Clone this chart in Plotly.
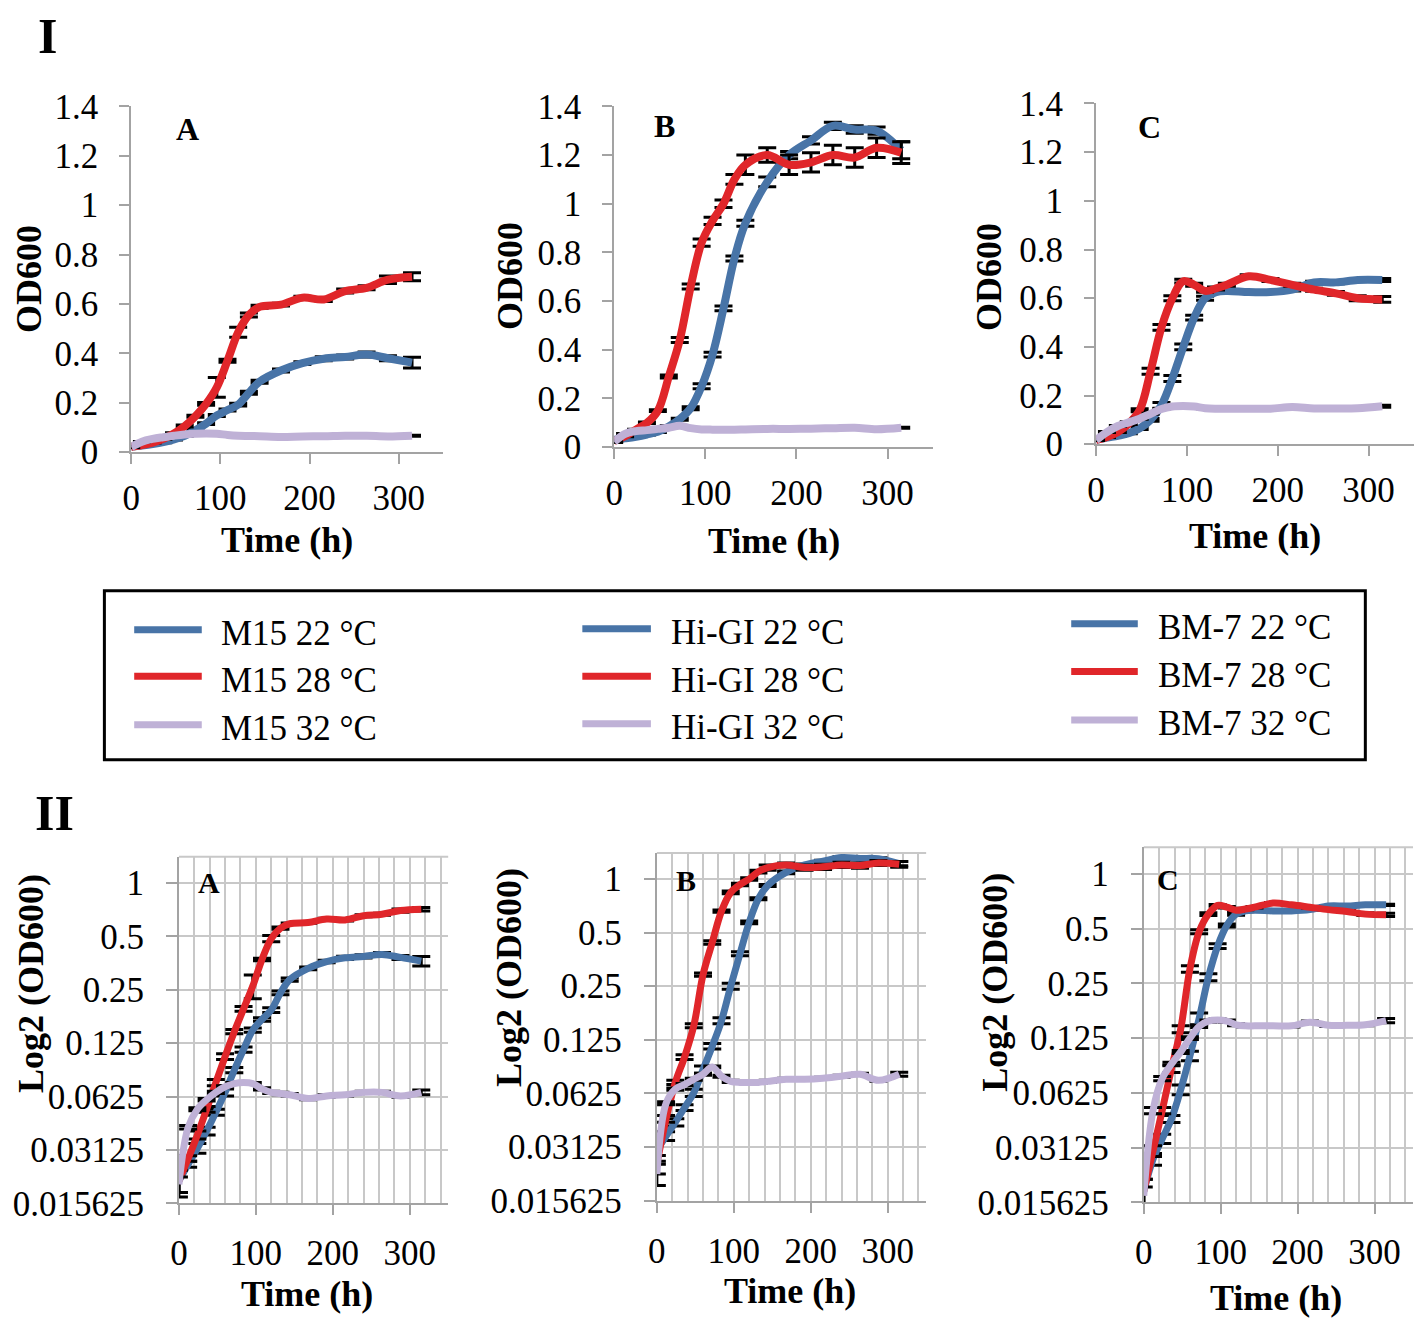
import plotly.graph_objects as go

W, H = 1418, 1339

# ---------------- data ----------------
time_h = [0, 12, 24, 36, 48, 60, 72, 84, 96, 108, 120, 132, 144, 168, 192, 216, 240, 264, 288, 315]

strains = ["M15", "Hi-GI", "BM-7"]
temps = ["22 °C", "28 °C", "32 °C"]

m15_22 = [0.021, 0.026, 0.032, 0.040, 0.051, 0.066, 0.088, 0.115, 0.148, 0.170, 0.192, 0.240, 0.285, 0.330, 0.360, 0.378, 0.385, 0.395, 0.380, 0.362]
m15_28 = [0.021, 0.028, 0.038, 0.053, 0.075, 0.105, 0.145, 0.195, 0.262, 0.370, 0.485, 0.555, 0.588, 0.597, 0.625, 0.618, 0.652, 0.665, 0.698, 0.710]
m15_32 = [0.020, 0.042, 0.053, 0.060, 0.066, 0.071, 0.074, 0.075, 0.074, 0.069, 0.066, 0.065, 0.064, 0.061, 0.063, 0.064, 0.066, 0.066, 0.063, 0.066]

higi_22 = [0.030, 0.036, 0.043, 0.052, 0.063, 0.085, 0.115, 0.160, 0.250, 0.380, 0.570, 0.775, 0.920, 1.090, 1.200, 1.260, 1.320, 1.305, 1.300, 1.220]
higi_28 = [0.025, 0.045, 0.072, 0.100, 0.150, 0.290, 0.440, 0.660, 0.840, 0.930, 1.000, 1.100, 1.160, 1.200, 1.160, 1.170, 1.200, 1.190, 1.230, 1.210]
higi_32 = [0.022, 0.055, 0.066, 0.070, 0.075, 0.080, 0.088, 0.078, 0.073, 0.072, 0.072, 0.072, 0.073, 0.075, 0.075, 0.076, 0.078, 0.080, 0.074, 0.080]

bm7_22 = [0.018, 0.027, 0.035, 0.045, 0.065, 0.100, 0.160, 0.270, 0.400, 0.520, 0.600, 0.625, 0.630, 0.625, 0.625, 0.635, 0.665, 0.665, 0.675, 0.675]
bm7_28 = [0.018, 0.030, 0.050, 0.085, 0.140, 0.300, 0.480, 0.600, 0.670, 0.655, 0.630, 0.640, 0.655, 0.690, 0.675, 0.655, 0.635, 0.620, 0.600, 0.595]
bm7_32 = [0.017, 0.050, 0.075, 0.090, 0.105, 0.125, 0.145, 0.155, 0.157, 0.155, 0.148, 0.146, 0.146, 0.146, 0.146, 0.153, 0.147, 0.147, 0.148, 0.156]

# standard deviations (error bars)
m15_22_err = [0.004, 0.001, 0.002, 0.002, 0.002, 0.003, 0.003, 0.004, 0.004, 0.004, 0.006, 0.006, 0.006, 0.006, 0.006, 0.008, 0.008, 0.010, 0.010, 0.022]
m15_28_err = [0.003, 0.001, 0.002, 0.002, 0.003, 0.004, 0.004, 0.006, 0.040, 0.006, 0.020, 0.008, 0.006, 0.006, 0.006, 0.008, 0.008, 0.008, 0.015, 0.016]
m15_32_err = [0.002, 0.001, 0.001, 0.001, 0.001, 0.001, 0.001, 0.001, 0.001, 0.001, 0.001, 0.001, 0.001, 0.001, 0.001, 0.001, 0.001, 0.001, 0.001, 0.002]

higi_22_err = [0.004, 0.002, 0.002, 0.002, 0.003, 0.004, 0.004, 0.006, 0.010, 0.010, 0.010, 0.010, 0.012, 0.020, 0.015, 0.015, 0.015, 0.015, 0.015, 0.035]
higi_28_err = [0.003, 0.002, 0.002, 0.003, 0.004, 0.006, 0.010, 0.010, 0.015, 0.015, 0.015, 0.020, 0.040, 0.030, 0.040, 0.040, 0.040, 0.040, 0.040, 0.045]
higi_32_err = [0.003, 0.001, 0.001, 0.001, 0.001, 0.001, 0.001, 0.001, 0.001, 0.001, 0.001, 0.001, 0.001, 0.001, 0.001, 0.001, 0.001, 0.001, 0.001, 0.002]

bm7_22_err = [0.003, 0.002, 0.002, 0.002, 0.004, 0.006, 0.012, 0.012, 0.012, 0.010, 0.008, 0.006, 0.005, 0.004, 0.004, 0.005, 0.005, 0.006, 0.006, 0.006]
bm7_28_err = [0.003, 0.002, 0.002, 0.004, 0.006, 0.012, 0.012, 0.010, 0.008, 0.006, 0.006, 0.006, 0.006, 0.006, 0.006, 0.006, 0.006, 0.008, 0.010, 0.012]
bm7_32_err = [0.002, 0.002, 0.002, 0.002, 0.002, 0.002, 0.002, 0.002, 0.002, 0.002, 0.002, 0.002, 0.002, 0.002, 0.002, 0.002, 0.002, 0.002, 0.002, 0.004]

panel_letters = ["A", "B", "C"]
lin_ticks = [0, 0.2, 0.4, 0.6, 0.8, 1, 1.2, 1.4]
log_tickvals = [0.015625, 0.03125, 0.0625, 0.125, 0.25, 0.5, 1]
log_ticktext = ["0.015625", "0.03125", "0.0625", "0.125", "0.25", "0.5", "1"]
x_ticks = [0, 100, 200, 300]

series = [
    [(m15_22, m15_22_err), (m15_28, m15_28_err), (m15_32, m15_32_err)],
    [(higi_22, higi_22_err), (higi_28, higi_28_err), (higi_32, higi_32_err)],
    [(bm7_22, bm7_22_err), (bm7_28, bm7_28_err), (bm7_32, bm7_32_err)],
]

colors = ["#4874A7", "#E0262A", "#BFB1D6"]
FONT = "Liberation Serif"
AXIS_GRAY = "#a3a3a3"
GRID_GRAY = "#c8c8c8"

# ---------------- layout geometry (pixels) ----------------
top_boxes = [(123, 437, 90, 446), (609, 930, 90, 441), (1094, 1414, 87, 438)]
bot_boxes = [(171, 442, 863, 1220), (652, 923, 859, 1217), (1142, 1413, 853, 1219)]


def px(x):
    return x / W


def py(y):
    return 1 - y / H


fig = go.Figure()
layout = dict(
    width=W, height=H, autosize=False,
    margin=dict(l=0, r=0, t=0, b=0),
    paper_bgcolor="white", plot_bgcolor="white",
    showlegend=False,
    font=dict(family=FONT, color="black", size=35),
)
annotations = []
shapes = []

for i in range(3):
    # ---- top (linear) ----
    n = i + 1
    xa = "x" if n == 1 else f"x{n}"
    ya = "y" if n == 1 else f"y{n}"
    x0, x1, y0, y1 = top_boxes[i]
    layout["xaxis" if n == 1 else f"xaxis{n}"] = dict(
        domain=[px(x0), px(x1)], anchor=ya, range=[0, 350],
        tickvals=x_ticks, showgrid=False, zeroline=False,
        showline=True, linecolor=AXIS_GRAY, linewidth=2,
        ticks="outside", ticklen=10, tickwidth=2, tickcolor=AXIS_GRAY,
        tickfont=dict(family=FONT, size=35, color="black"),
        ticklabelstandoff=4,
    )
    layout["yaxis" if n == 1 else f"yaxis{n}"] = dict(
        domain=[py(y1), py(y0)], anchor=xa, range=[0, 1.4],
        tickvals=lin_ticks, showgrid=False, zeroline=False,
        showline=True, linecolor=AXIS_GRAY, linewidth=2,
        ticks="outside", ticklen=10, tickwidth=2, tickcolor=AXIS_GRAY,
        tickfont=dict(family=FONT, size=35, color="black"),
        ticklabelstandoff=14,
    )
    for k, (vals, err) in enumerate(series[i]):
        fig.add_trace(go.Scatter(
            x=time_h, y=vals, xaxis=xa, yaxis=ya, mode="lines",
            line=dict(color=colors[k], width=8, shape="spline", smoothing=1.0),
            error_y=dict(type="data", array=err, color="black", thickness=3, width=9),
            name=f"{strains[i]} {temps[k]}",
        ))

    # ---- bottom (log2) ----
    m = i + 4
    xb = f"x{m}"
    yb = f"y{m}"
    bx0, bx1, by0, by1 = bot_boxes[i]
    layout[f"xaxis{m}"] = dict(
        domain=[px(bx0), px(bx1)], anchor=yb, range=[0, 350],
        tickvals=x_ticks, showgrid=True, gridcolor=GRID_GRAY, gridwidth=2,
        minor=dict(dtick=20, tick0=0, showgrid=True, gridcolor=GRID_GRAY, gridwidth=2, ticks=""),
        zeroline=False,
        showline=True, linecolor=AXIS_GRAY, linewidth=2,
        ticks="outside", ticklen=10, tickwidth=2, tickcolor=AXIS_GRAY,
        tickfont=dict(family=FONT, size=35, color="black"),
        ticklabelstandoff=8,
    )
    layout[f"yaxis{m}"] = dict(
        domain=[py(by1), py(by0)], anchor=xb, type="log",
        range=[-1.80618, 0.146128],
        tickvals=log_tickvals, ticktext=log_ticktext,
        showgrid=True, gridcolor=GRID_GRAY, gridwidth=2, zeroline=False,
        showline=True, linecolor=AXIS_GRAY, linewidth=2,
        ticks="outside", ticklen=11, tickwidth=2, tickcolor=AXIS_GRAY,
        tickfont=dict(family=FONT, size=35, color="black"),
        ticklabelstandoff=15,
    )
    # top border line of gridded plot area
    shapes.append(dict(type="line", xref=f"x{m} domain", yref=f"y{m} domain",
                       x0=0, x1=1, y0=1, y1=1, line=dict(color=GRID_GRAY, width=2), layer="below"))
    for k, (vals, err) in enumerate(series[i]):
        fig.add_trace(go.Scatter(
            x=time_h, y=vals, xaxis=xb, yaxis=yb, mode="lines",
            line=dict(color=colors[k], width=7, shape="spline", smoothing=1.0),
            error_y=dict(type="data", array=err, color="black", thickness=3, width=9),
            name=f"{strains[i]} {temps[k]}",
        ))


# ---------------- text annotations ----------------
def ann(text, x, y, size, bold=False, angle=0, xanchor="center", yanchor="middle"):
    annotations.append(dict(
        text=f"<b>{text}</b>" if bold else text, x=px(x), y=py(y), xref="paper", yref="paper",
        showarrow=False, xanchor=xanchor, yanchor=yanchor, textangle=angle,
        font=dict(family=FONT, size=size, color="black"),
    ))

ann("I", 39, 18, 50, bold=True)
ann("II", 46, 818, 50, bold=True)

top_letter_pos = [(180, 113), (660, 110), (1148, 111)]
bot_letter_pos = [(201, 889), (681, 887), (1166, 886)]
top_od_pos = [(20, 268), (504, 265), (987, 266)]
top_time_pos = [(280, 537), (770, 538), (1254, 533)]
bot_log_pos = [(22, 993), (503, 987), (992, 992)]
bot_time_pos = [(300, 1313), (786, 1310), (1275, 1317)]

for i in range(3):
    ann(panel_letters[i], *top_letter_pos[i], 32, bold=True)
    ann(panel_letters[i], *bot_letter_pos[i], 30, bold=True)
    ann("OD600", *top_od_pos[i], 36, bold=True, angle=-90)
    ann("Time (h)", *top_time_pos[i], 36, bold=True)
    ann("Log2 (OD600)", *bot_log_pos[i], 36, bold=True, angle=-90)
    ann("Time (h)", *bot_time_pos[i], 36, bold=True)

# ---------------- legend box ----------------
shapes.append(dict(type="rect", xref="paper", yref="paper",
                   x0=px(96), x1=px(1365), y0=py(763), y1=py(589),
                   line=dict(color="black", width=3), fillcolor="rgba(0,0,0,0)"))
leg_cols = [
    (126, 194, 211, [629, 677, 727]),
    (577, 646, 664, [628, 677, 726]),
    (1069, 1136, 1154, [623, 672, 722]),
]
for i, (lx0, lx1, tx, rows) in enumerate(leg_cols):
    for k in range(3):
        shapes.append(dict(type="line", xref="paper", yref="paper",
                           x0=px(lx0), x1=px(lx1), y0=py(rows[k]), y1=py(rows[k]),
                           line=dict(color=colors[k], width=7)))
        ann(f"{strains[i]} {temps[k]}", tx, rows[k] + 4, 35, xanchor="left")

layout["annotations"] = annotations
layout["shapes"] = shapes
fig.update_layout(**layout)
fig.write_html(
    "out.html",
    config={"displayModeBar": False},
    post_script="document.body.style.margin='0';document.body.style.overflow='hidden';",
)
